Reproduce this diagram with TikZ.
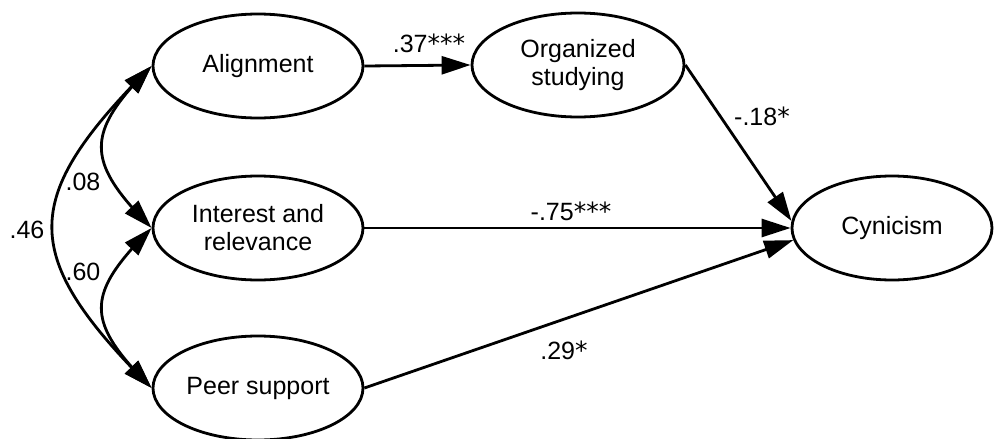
\documentclass[tikz,border=0pt]{standalone}
\usepackage{fontspec}
\setmainfont{Liberation Sans}
\newfontfamily\astfont{DejaVu Sans}
\newcommand{\sigstar}{{\astfont *}}
\usetikzlibrary{shapes.geometric,arrows.meta,bending}
\begin{document}
\begin{tikzpicture}[x=1pt,y=-1pt,
  var/.style={ellipse,draw,line width=2.8pt,minimum width=210pt,minimum height=104pt,inner sep=0pt,align=center,font=\fontsize{25}{28}\selectfont},
  pathar/.style={line width=2.8pt,-{Triangle[length=29pt,width=18pt]}},
  covar/.style={line width=2.8pt,{Triangle[length=29pt,width=18pt]}-{Triangle[length=29pt,width=18pt]}},
  lab/.style={font=\fontsize{25}{28}\selectfont,inner sep=0pt}]
\useasboundingbox (0,0) rectangle (994,439);
\node[var] (align) at (258,66) {Alignment};
\node[var] (inter) at (258,228) {Interest and\\relevance};
\node[var] (peer) at (258,388) {Peer support};
\node[var,minimum width=212pt] (org) at (578,65) {Organized\\studying};
\node[var,minimum width=200pt] (cyn) at (892,228) {Cynicism};

\draw[pathar] (align.east) -- (org.west);
\draw[pathar] (org.east) -- (cyn.176);
\draw[pathar] (inter.east) -- (cyn.west);
\draw[pathar] (peer.east) -- (cyn.187);

\draw[covar] (align.west) .. controls +(-67,67) and +(-67,-67) .. (inter.west);
\draw[covar] (inter.west) .. controls +(-67,67) and +(-67,-67) .. (peer.west);
\draw[covar] (align.west) .. controls +(-133,133) and +(-133,-133) .. (peer.west);

\node[lab] (l37) at (429,43) {.37\sigstar\sigstar\sigstar};
\node[lab] (l18) at (762,116) {-.18\sigstar};
\node[lab] (l75) at (571,211) {-.75\sigstar\sigstar\sigstar};
\node[lab] (l29) at (564,350) {.29\sigstar};
\node[lab] (l08) at (83,182) {.08};
\node[lab] (l60) at (83,272) {.60};
\node[lab] (l46) at (27,230) {.46};
\end{tikzpicture}
\end{document}
